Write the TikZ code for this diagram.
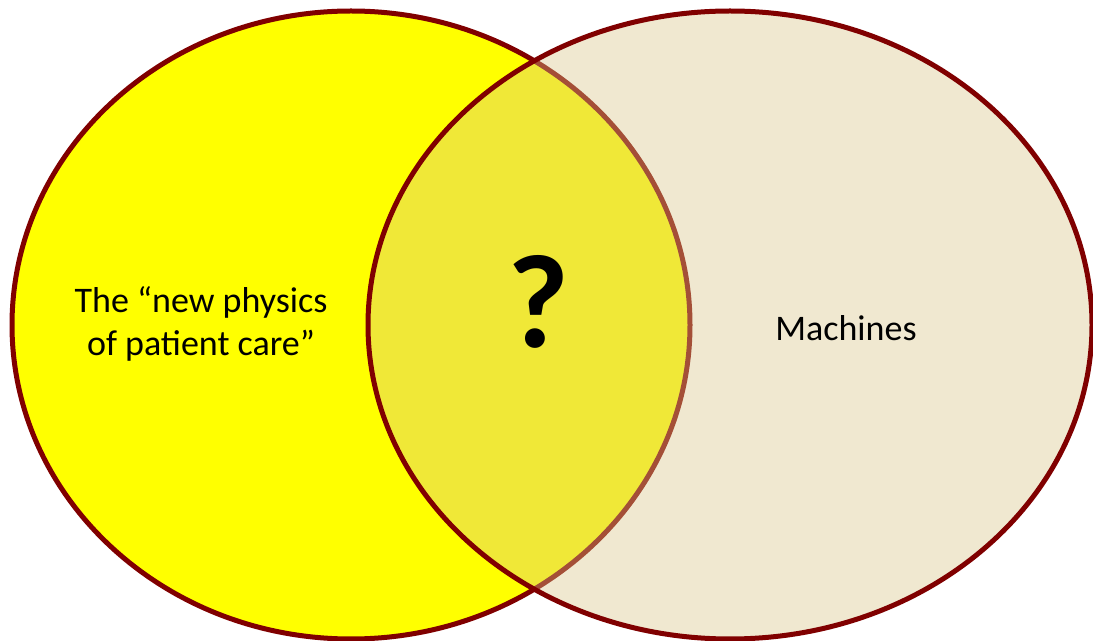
\documentclass[tikz,border=0pt]{standalone}
\usepackage{fontspec}
\setmainfont{Carlito}
\usepackage{xcolor}
\usepackage{tikz}

\begin{document}
\begin{tikzpicture}[x=0.75pt,y=0.75pt,yscale=-1,xscale=1]
%set diagram left start at 0, and has height of 641
\useasboundingbox (0,0) rectangle (1093,641);

%Shape: Ellipse [id:dp1] 
\draw  [color={rgb, 255:red, 128; green, 0; blue, 0 }  ,draw opacity=1 ][fill={rgb, 255:red, 255; green, 255; blue, 0 }  ,fill opacity=1 ][line width=3.75]  (351,325) ellipse (339 and 314) ;
%Shape: Ellipse [id:dp2] 
\draw  [color={rgb, 255:red, 128; green, 0; blue, 0 }  ,draw opacity=1 ][fill={rgb, 255:red, 218; green, 198; blue, 138 }  ,fill opacity=0.4 ][line width=3.75]  (730,325) ellipse (362 and 314) ;

% Text Node
\draw (201,324) node [inner sep=0.75pt]  [font=\fontsize{27}{32}\selectfont] [align=center] (physics) {The “new physics\\of patient care”};
% Text Node
\draw (538,302) node [inner sep=0.75pt]  [font=\fontsize{100}{100}\selectfont\bfseries] [align=center] (question) {?};
% Text Node
\draw (846,328) node [inner sep=0.75pt]  [font=\fontsize{27}{32}\selectfont] [align=center] (machines) {Machines};
\end{tikzpicture}
\end{document}
